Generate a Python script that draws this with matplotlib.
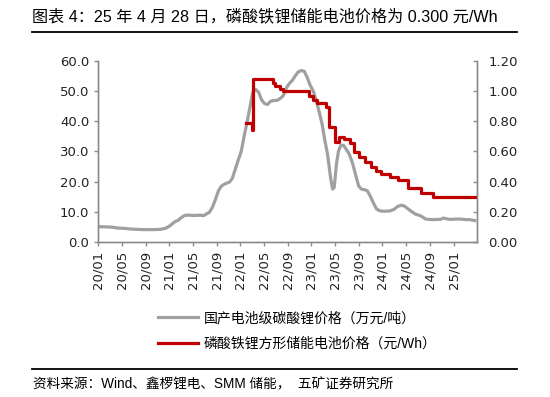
import matplotlib
matplotlib.use('Agg')
import matplotlib.pyplot as plt
import matplotlib.dates as mdates
import numpy as np
import pandas as pd
from matplotlib.lines import Line2D

plt.rcParams['font.family'] = ['DejaVu Sans', 'Noto Sans CJK SC']
CJK = ['Liberation Sans', 'Noto Sans CJK SC']

# 国产电池级碳酸锂价格 (万元/吨)
li_dates = ['2020-01-02', '2020-02-15', '2020-03-15', '2020-04-10', '2020-05-15', '2020-06-15',
            '2020-07-15', '2020-08-15', '2020-09-15', '2020-10-15', '2020-11-15', '2020-12-10',
            '2020-12-31', '2021-01-15', '2021-01-31', '2021-02-15', '2021-03-01', '2021-03-20',
            '2021-04-10', '2021-05-01', '2021-05-20', '2021-06-10', '2021-06-25', '2021-07-10',
            '2021-07-25', '2021-08-10', '2021-08-25', '2021-09-10', '2021-09-25', '2021-10-15',
            '2021-11-05', '2021-11-20', '2021-12-05', '2021-12-20', '2022-01-05', '2022-01-20',
            '2022-02-05', '2022-02-20', '2022-03-05', '2022-03-20', '2022-04-05', '2022-04-20',
            '2022-05-05', '2022-05-20', '2022-06-05', '2022-06-20', '2022-07-10', '2022-07-25',
            '2022-08-10', '2022-08-25', '2022-09-10', '2022-09-25', '2022-10-10', '2022-10-25',
            '2022-11-10', '2022-11-25', '2022-12-10', '2022-12-25', '2023-01-10', '2023-01-25',
            '2023-02-10', '2023-02-25', '2023-03-10', '2023-03-25', '2023-04-10', '2023-04-20',
            '2023-04-28', '2023-05-10', '2023-05-20', '2023-06-01', '2023-06-15', '2023-07-01',
            '2023-07-15', '2023-08-01', '2023-08-15', '2023-09-01', '2023-09-15', '2023-10-01',
            '2023-10-15', '2023-11-01', '2023-11-15', '2023-12-01', '2023-12-15', '2024-01-01',
            '2024-01-20', '2024-02-10', '2024-03-01', '2024-03-20', '2024-04-10', '2024-04-25',
            '2024-05-15', '2024-06-01', '2024-06-20', '2024-07-10', '2024-07-25', '2024-08-10',
            '2024-08-25', '2024-09-10', '2024-09-25', '2024-10-10', '2024-10-25', '2024-11-10',
            '2024-11-25', '2024-12-10', '2024-12-25', '2025-01-15', '2025-02-01', '2025-02-20',
            '2025-03-10', '2025-03-25', '2025-04-10', '2025-04-28']
li_price = [5.05, 5.0, 4.9, 4.6, 4.5, 4.3,
            4.2, 4.1, 4.1, 4.1, 4.2, 4.5,
            5.2, 6.0, 6.8, 7.2, 8.0, 8.8,
            8.9, 8.8, 8.8, 8.9, 8.7, 9.3,
            9.8, 11.5, 14.0, 17.0, 18.5, 19.3,
            19.8, 21.0, 24.0, 27.0, 30.0, 35.0,
            40.0, 45.0, 49.5, 50.5, 49.5, 47.0,
            45.8, 45.5, 46.6, 46.8, 46.9, 47.5,
            48.5, 51.0, 52.5, 53.5, 55.0, 56.3,
            56.75, 56.5, 54.5, 52.0, 50.0, 47.0,
            43.0, 39.0, 34.0, 29.0, 21.0, 17.5,
            18.0, 26.0, 30.0, 32.0, 32.0, 30.5,
            29.0, 26.0, 22.5, 18.5, 17.5, 17.3,
            17.0, 15.0, 13.0, 11.0, 10.4, 10.2,
            10.2, 10.3, 10.8, 11.8, 12.2, 11.8,
            10.8, 10.0, 9.2, 8.8, 8.3, 7.6,
            7.5, 7.4, 7.4, 7.5, 7.5, 7.9,
            7.7, 7.5, 7.5, 7.6, 7.6, 7.5,
            7.4, 7.4, 7.2, 7.0]

# 磷酸铁锂方形储能电池价格 (元/Wh), step changes
cell_dates = ['2022-01-28', '2022-03-03', '2022-03-07', '2022-06-15', '2022-06-30', '2022-07-25',
              '2022-08-08', '2022-12-20', '2023-01-10', '2023-02-01', '2023-03-15', '2023-04-03',
              '2023-05-01', '2023-05-25', '2023-06-20', '2023-07-20', '2023-08-10', '2023-09-05',
              '2023-10-01', '2023-11-05', '2023-12-01', '2023-12-25', '2024-02-08', '2024-03-20',
              '2024-05-10', '2024-07-20', '2024-09-18', '2025-04-28']
cell_price = [0.785, 0.74, 1.08, 1.055, 1.035, 1.015,
              1.00, 0.965, 0.94, 0.918, 0.895, 0.763,
              0.664, 0.693, 0.68, 0.653, 0.598, 0.565,
              0.531, 0.498, 0.472, 0.45, 0.432, 0.41,
              0.36, 0.326, 0.30, 0.30]

li_label = '国产电池级碳酸锂价格（万元/吨）'
cell_label = '磷酸铁锂方形储能电池价格（元/Wh）'
title = '图表 4：25 年 4 月 28 日，磷酸铁锂储能电池价格为 0.300 元/Wh'
source = '资料来源：Wind、鑫椤锂电、SMM 储能，  五矿证券研究所'

fig = plt.figure(figsize=(5.5, 3.97), dpi=100)
ax = fig.add_axes([98.3 / 550, 1 - 242 / 397, (477.3 - 98.3) / 550, (242 - 60.7) / 397])
ax2 = ax.twinx()

grey = '#a0a0a0'
red = '#c00000'
axis_col = '#8c8c8c'

ax.plot(pd.to_datetime(li_dates), li_price, color=grey, lw=2.3, solid_capstyle='butt')
ax2.plot(pd.to_datetime(cell_dates), cell_price, color=red, lw=2.3, drawstyle='steps-post')

ax.set_ylim(0, 60)
ax.set_yticks(np.arange(0, 61, 10))
ax.yaxis.set_major_formatter(matplotlib.ticker.FormatStrFormatter('%.1f'))
ax2.set_ylim(0, 1.2)
ax2.set_yticks(np.arange(0, 1.21, 0.2))
ax2.yaxis.set_major_formatter(matplotlib.ticker.FormatStrFormatter('%.2f'))

ax.set_xlim(pd.Timestamp('2020-01-01'), pd.Timestamp('2025-05-03'))
ax.set_xticks(pd.date_range('2020-01-01', '2025-01-01', freq='4MS'))
ax.xaxis.set_major_formatter(mdates.DateFormatter('%y/%m'))
plt.setp(ax.get_xticklabels(), rotation=90)

for a in (ax, ax2):
    a.spines['top'].set_visible(False)
    for s in ('left', 'right', 'bottom'):
        a.spines[s].set_color(axis_col)
        a.spines[s].set_linewidth(1.0)
ax.tick_params(axis='both', labelsize=9.5, colors=axis_col, labelcolor='#222222', length=3, width=1)
ax.tick_params(axis='y', direction='out')
ax2.tick_params(axis='y', direction='in', labelsize=9.5, colors=axis_col, labelcolor='#222222',
                length=3, width=1, pad=8)

handles = [Line2D([], [], color=grey, lw=2.3), Line2D([], [], color=red, lw=2.3)]
fig.legend(handles, [li_label, cell_label], loc='upper left',
           bbox_to_anchor=(151 / 550, 1 - 304 / 397), frameon=False, borderpad=0,
           handlelength=2.9, handletextpad=0.4, labelspacing=0.85,
           prop={'family': CJK, 'size': 10})

fig.text(32 / 550, 1 - 16 / 397, title, fontsize=11.6, family=CJK, va='center', ha='left')
fig.add_artist(Line2D([32 / 550, 517 / 550], [1 - 32 / 397, 1 - 32 / 397], color='black', lw=1.3))
fig.add_artist(Line2D([32 / 550, 517 / 550], [1 - 369 / 397, 1 - 369 / 397], color='black', lw=1.3))
fig.text(33 / 550, 1 - 384 / 397, source, fontsize=9.8, family=CJK, va='center', ha='left')

fig.savefig('out.png', dpi=100)
